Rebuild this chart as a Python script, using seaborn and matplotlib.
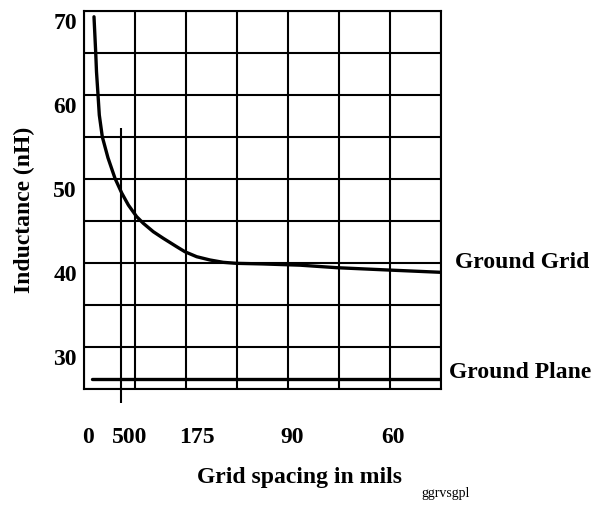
import matplotlib
matplotlib.use("Agg")
import matplotlib.pyplot as plt
import seaborn as sns
import pandas as pd
from matplotlib.transforms import ScaledTranslation, Bbox, TransformedBbox

# ---- data (x in grid-column units, y in nH) ----
grid_x = [0.196, 0.23, 0.245, 0.275, 0.30, 0.359, 0.47, 0.608, 0.74,
          0.87, 1.033, 1.163, 1.359, 1.555, 1.818, 1.98, 2.21,
          2.47, 2.73, 2.99, 3.50, 4.24, 4.96, 5.98, 7.00]
grid_y = [69.31, 65.0, 62.76, 59.98, 57.60, 55.0, 52.5, 50.05, 48.3,
          46.87, 45.48, 44.69, 43.69, 42.90, 41.90, 41.30, 40.71,
          40.32, 40.04, 39.92, 39.85, 39.70, 39.40, 39.12, 38.85]
plane_x = [0.16, 7.0]
plane_y = [26.15, 26.15]
x_tick_pos = [0.07, 0.90, 2.21, 4.08, 6.06]
x_tick_labels = ["0", "500", "175", "90", "60"]
x_grid_pos = [0, 1, 2, 3, 4, 5, 6, 7]
y_major = [30, 40, 50, 60, 70]
y_minor = [25, 35, 45, 55, 65]
marker_x = 0.72
marker_y = [23.3, 56.1]

sns.set_style("white")
plt.rcParams["font.family"] = ["Liberation Serif", "DejaVu Serif"]
for k in ("text.color", "axes.labelcolor", "xtick.color", "ytick.color"):
    plt.rcParams[k] = "black"

fig = plt.figure(figsize=(6.09, 5.13), dpi=100)
ax = fig.add_axes([84 / 609, 1 - 388.5 / 513, (441 - 84) / 609, (388.5 - 11) / 513])

df_grid = pd.DataFrame({"x": grid_x, "y": grid_y})
df_plane = pd.DataFrame({"x": plane_x, "y": plane_y})
sns.lineplot(data=df_grid, x="x", y="y", ax=ax, color="black", lw=2.4,
             sort=False, estimator=None)
sns.lineplot(data=df_plane, x="x", y="y", ax=ax, color="black", lw=2.4,
             sort=False, estimator=None)

ax.set_xlim(0, 7)
ax.set_ylim(25, 70)

# x: major ticks carry labels (no tick marks), minor ticks are grid lines
ax.set_xticks(x_tick_pos)
ax.set_xticklabels(x_tick_labels, fontsize=17, fontweight="bold")
ax.set_xticks(x_grid_pos, minor=True)
ax.tick_params(axis="x", which="major", length=0, pad=28)
ax.tick_params(axis="x", which="minor", length=13, width=1.5, color="black",
               direction="out")

# y
ax.set_yticks(y_major)
ax.set_yticklabels([str(v) for v in y_major], fontsize=17, fontweight="bold")
ax.set_yticks(y_minor, minor=True)
ax.tick_params(axis="y", which="both", length=8, width=1.5, color="black",
               direction="out", pad=-3)
for lab in ax.get_yticklabels():
    lab.set_transform(lab.get_transform() +
                      ScaledTranslation(0, -7.5 / 72, fig.dpi_scale_trans))

ax.grid(False)
ax.xaxis.grid(True, which="minor", color="black", lw=1.5)
ax.yaxis.grid(True, which="both", color="black", lw=1.5)
for s in ax.spines.values():
    s.set_color("black")
    s.set_linewidth(1.5)

ax.vlines(marker_x, marker_y[0], marker_y[1], color="black", lw=1.5,
          clip_on=False)

ax.set_xlabel("Grid spacing in mils", fontsize=17, fontweight="bold")
ax.xaxis.set_label_coords((300 - 84) / 357, -(477 - 388.5) / 377.5)
ax.xaxis.label.set_va("center")
ax.set_ylabel("Inductance (nH)", fontsize=17, fontweight="bold")
ax.yaxis.set_label_coords(-(84 - 24) / 357, (388.5 - 209.5) / 377.5)
ax.yaxis.label.set_va("center")

clip = TransformedBbox(Bbox([[0, 0], [593 / 609, 1]]), fig.transFigure)
t1 = fig.text(455 / 609, 1 - 263 / 513, "Ground Grid", fontsize=17,
              fontweight="bold", ha="left", va="center")
t2 = fig.text(449 / 609, 1 - 373 / 513, "Ground Plane", fontsize=17,
              fontweight="bold", ha="left", va="center")
for t in (t1, t2):
    t.set_clip_on(True)
    t.set_clip_box(clip)

fig.text(421 / 609, 1 - 493 / 513, "ggrvsgpl", fontsize=10, ha="left",
         va="center")

fig.savefig("out.png", dpi=100)
